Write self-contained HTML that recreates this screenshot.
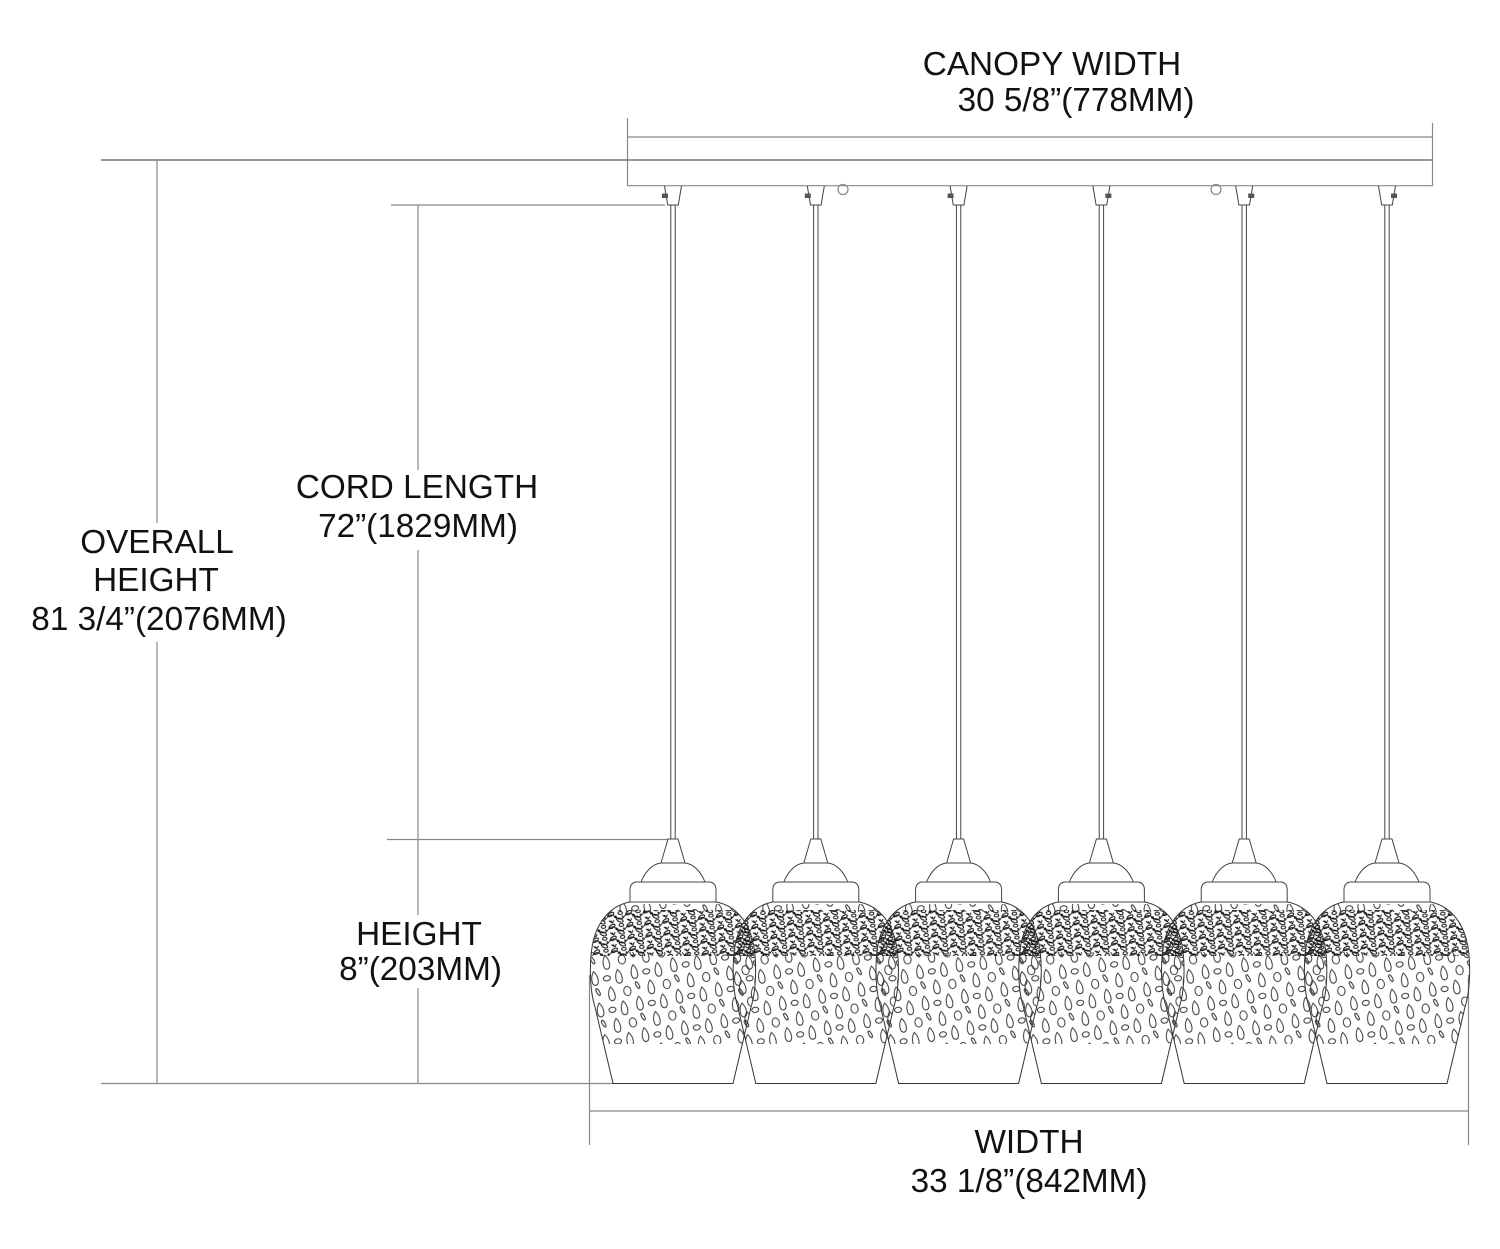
<!DOCTYPE html>
<html>
<head>
<meta charset="utf-8">
<style>
  html,body{margin:0;padding:0;background:#fff;}
  svg{display:block;}
  text{font-family:"Liberation Sans", Arial, sans-serif;font-size:33.3px;fill:#111;text-anchor:middle;}
</style>
</head>
<body>
<svg width="1500" height="1249" viewBox="0 0 1500 1249" xmlns="http://www.w3.org/2000/svg">
  <defs>
    <pattern id="leaf" width="18" height="12" patternUnits="userSpaceOnUse" patternTransform="rotate(-6)">
      <g fill="none" stroke="#1a1a1a" stroke-width="1.1">
        <path d="M0 6 Q4.5 1 9 6 T18 6"/>
        <ellipse cx="4.5" cy="3" rx="3.4" ry="1.7" transform="rotate(-25 4.5 3)"/>
        <ellipse cx="13" cy="9.5" rx="3.4" ry="1.7" transform="rotate(30 13 9.5)"/>
        <ellipse cx="14" cy="2.5" rx="2.2" ry="1.5"/>
        <path d="M2 9 l3 2.5 M7 9 l-2 3"/>
      </g>
      <circle cx="9" cy="6" r="1.4" fill="#1a1a1a"/>
      <circle cx="4" cy="10" r="1" fill="#1a1a1a"/>
      <circle cx="16" cy="6" r="0.9" fill="#1a1a1a"/>
    </pattern>
    <pattern id="drop" width="40" height="32" patternUnits="userSpaceOnUse" patternTransform="rotate(-10)">
      <g fill="none" stroke="#333" stroke-width="1">
        <path d="M7 1 C11 6 11.5 15 7 15 C2.5 15 3 6 7 1Z"/>
        <ellipse cx="23" cy="8" rx="3.6" ry="4.6"/>
        <path d="M17 17 C21 22 21.5 31 17 31 C12.5 31 13 22 17 17Z"/>
        <path d="M33 15 C37 20 37.5 29 33 29 C28.5 29 29 20 33 15Z"/>
        <ellipse cx="34" cy="4" rx="1.4" ry="3.8" transform="rotate(-20 34 4)"/>
        <ellipse cx="5" cy="24" rx="3.5" ry="2.6"/>
      </g>
    </pattern>
    <clipPath id="bodyclip" clipPathUnits="userSpaceOnUse">
      <path d="M-43 902 C-60 905 -73 918 -79 938 C-84 956 -84 988 -78 1007 L-60 1083.5 L60 1083.5 L78 1007 C84 988 84 956 79 938 C73 918 60 905 43 902 Z"/>
    </clipPath>
    <g id="shade">
      <g fill="none" stroke="#444" stroke-width="1">
        <line x1="-2.2" y1="205" x2="-2.2" y2="839"/>
        <line x1="2.2" y1="205" x2="2.2" y2="839"/>
        <path d="M-8.5 186 L-5.3 205 L5.3 205 L8.5 186"/>
        <path d="M-12 863 L-5 839 L5 839 L12 863"/>
        <path d="M-32 882 C-28 872 -21 864 -12 863 L12 863 C21 864 28 872 32 882"/>
        <path d="M-37 882 L37 882 Q43 883 43 890 L43 902 L-43 902 L-43 890 Q-43 883 -37 882 Z"/>
      </g>
      <g clip-path="url(#bodyclip)">
        <rect x="-90" y="952" width="180" height="92" fill="url(#drop)"/>
        <rect x="-90" y="904" width="180" height="8" fill="url(#drop)"/>
        <rect x="-90" y="910" width="180" height="46" fill="url(#leaf)"/>
      </g>
      <path d="M-43 902 C-60 905 -73 918 -79 938 C-84 956 -84 988 -78 1007 L-60 1083.5 L60 1083.5 L78 1007 C84 988 84 956 79 938 C73 918 60 905 43 902" fill="none" stroke="#333" stroke-width="1"/>
    </g>
  </defs>

  <rect x="0" y="0" width="1500" height="1249" fill="#fff"/>

  <!-- Canopy -->
  <g fill="none" stroke="#888" stroke-width="1.2">
    <line x1="627.5" y1="118" x2="627.5" y2="186"/>
    <line x1="1432.5" y1="123" x2="1432.5" y2="186"/>
    <line x1="627" y1="137" x2="1433" y2="137"/>
    <line x1="627" y1="185.7" x2="1433" y2="185.7"/>
    <circle cx="843" cy="189.5" r="5"/>
    <circle cx="1216" cy="189.5" r="5"/>
  </g>
  <line x1="101" y1="160" x2="1433" y2="160" stroke="#777" stroke-width="1.5"/>

  <!-- Overall height dimension -->
  <g fill="none" stroke="#888" stroke-width="1.2">
    <line x1="157" y1="160" x2="157" y2="523"/>
    <line x1="157" y1="642" x2="157" y2="1084"/>
    <line x1="101" y1="1083.5" x2="614" y2="1083.5"/>
    <!-- cord length / height dimension -->
    <line x1="391" y1="205" x2="665" y2="205"/>
    <line x1="418" y1="205" x2="418" y2="470"/>
    <line x1="418" y1="550" x2="418" y2="915"/>
    <line x1="418" y1="988" x2="418" y2="1084"/>
    <line x1="387" y1="839.5" x2="668" y2="839.5"/>
    <!-- width dimension -->
    <line x1="589" y1="1111" x2="1468" y2="1111"/>
    <line x1="589.5" y1="975" x2="589.5" y2="1145"/>
    <line x1="1468.5" y1="975" x2="1468.5" y2="1145"/>
  </g>

  <!-- Shades -->
  <use href="#shade" x="673"/>
  <use href="#shade" x="815.8"/>
  <use href="#shade" x="958.6"/>
  <use href="#shade" x="1101.4"/>
  <use href="#shade" x="1244.2"/>
  <use href="#shade" x="1387"/>

  <!-- connector labels -->
  <g fill="#555">
    <rect x="662" y="193.5" width="6" height="4.5"/>
    <rect x="804.8" y="193.5" width="6" height="4.5"/>
    <rect x="947.6" y="193.5" width="6" height="4.5"/>
    <rect x="1105.4" y="193.5" width="6" height="4.5"/>
    <rect x="1248.2" y="193.5" width="6" height="4.5"/>
    <rect x="1391" y="193.5" width="6" height="4.5"/>
  </g>

  <!-- Text -->
  <text x="1052" y="75">CANOPY WIDTH</text>
  <text x="1076" y="111">30 5/8”(778MM)</text>

  <text x="157" y="553">OVERALL</text>
  <text x="156" y="591">HEIGHT</text>
  <text x="159" y="630">81 3/4”(2076MM)</text>

  <text x="417" y="498">CORD LENGTH</text>
  <text x="418" y="537">72”(1829MM)</text>

  <text x="419" y="945">HEIGHT</text>
  <text x="420.5" y="980">8”(203MM)</text>

  <text x="1029" y="1153">WIDTH</text>
  <text x="1029" y="1192">33 1/8”(842MM)</text>
</svg>
</body>
</html>
